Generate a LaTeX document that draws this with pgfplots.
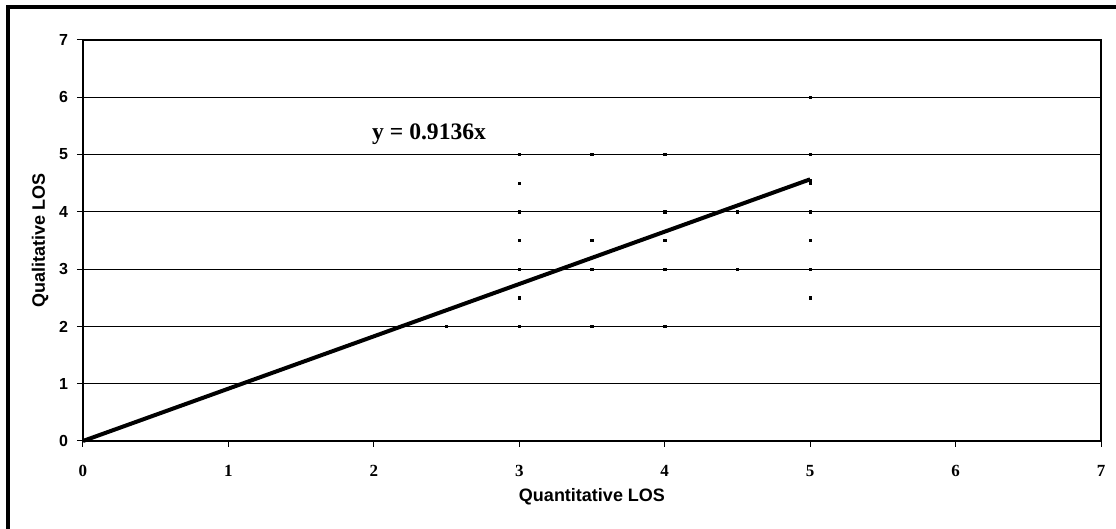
\documentclass[border=0pt]{standalone}
\usepackage{fontspec}
\setmainfont{Liberation Serif}
\setsansfont{Liberation Sans}
\usepackage{pgfplots}
\pgfplotsset{compat=1.18}
\begin{document}
\begin{tikzpicture}[x=1pt,y=1pt]
\useasboundingbox (0,0) rectangle (558,264.5);
\draw[line width=2pt] (3.8,-5) -- (3.8,260.8) -- (565,260.8);
\begin{axis}[
  at={(41.5pt,44pt)}, anchor=south west,
  scale only axis, width=509pt, height=200.5pt,
  xmin=0, xmax=7, ymin=0, ymax=7,
  xtick={0,...,7}, ytick={0,...,7},
  ymajorgrids, major grid style={black, line width=0.5pt},
  axis line style={black, line width=1pt},
  tick align=outside, tick pos=left,
  major tick length=3pt,
  tick style={black, line width=0.5pt},
  /pgf/number format/assume math mode=true,
  xticklabel style={font=\rmfamily\bfseries\fontsize{8.5}{9}\selectfont, yshift=-5.5pt},
  yticklabel style={font=\sffamily\bfseries\fontsize{8}{9}\selectfont, xshift=-1pt},
  xlabel={Quantitative LOS}, ylabel={Qualitative LOS},
  label style={font=\sffamily\bfseries\fontsize{9}{10}\selectfont},
  xlabel style={at={(axis description cs:0.5,-0.14)}, anchor=center},
  ylabel style={at={(axis description cs:-0.042,0.5)}, anchor=center},
  clip=false,
]
\addplot[only marks, mark=square*, mark size=0.6pt, black] coordinates {
 (2.5,2) (3,2) (3.5,2) (4,2)
 (3,2.5) (5,2.5)
 (3,3) (3.5,3) (4,3) (4.5,3) (5,3)
 (3,3.5) (3.5,3.5) (4,3.5) (5,3.5)
 (3,4) (4,4) (4.5,4) (5,4)
 (3,4.5) (5,4.5) (5,4.55)
 (3,5) (3.5,5) (4,5) (5,5)
 (5,6)
};
\addplot[black, line width=2pt, no marks] coordinates {(0,0) (5,4.568)};
\node[font=\rmfamily\bfseries\fontsize{11.8}{13}\selectfont] at (axis cs:2.38,5.36) {y = 0.9136x};
\end{axis}
\end{tikzpicture}
\end{document}
